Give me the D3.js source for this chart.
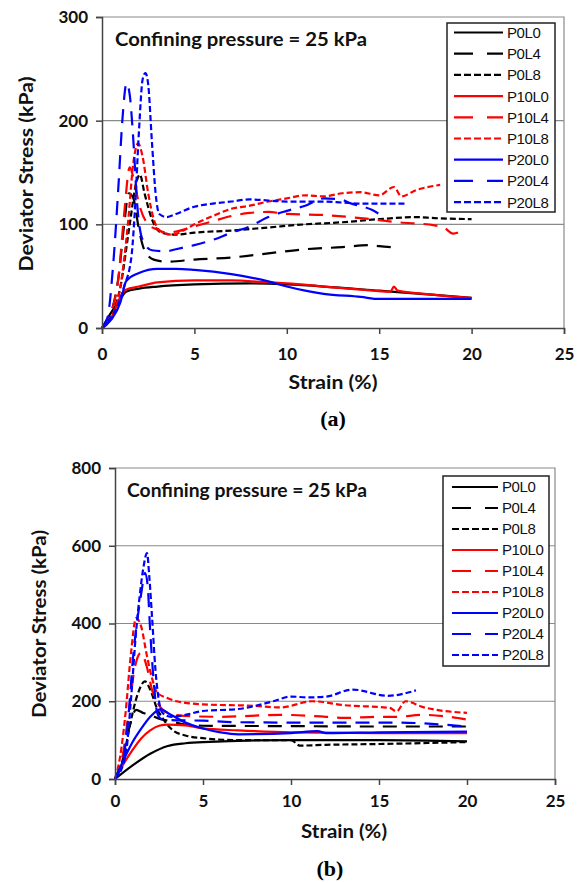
<!DOCTYPE html>
<html>
<head>
<meta charset="utf-8">
<script src="https://cdn.jsdelivr.net/npm/d3@7"></script>
<style>
  body { margin: 0; background: #fff; }
  svg { display: block; }
  .tick text { font-family: Lato, "Open Sans", sans-serif; font-weight: 700; font-size: 17px; fill: #111; }
</style>
</head>
<body>
<div id="fig"></div>
<script>
// legend names and line styles (shared by both panels)
const seriesNames = ['P0L0', 'P0L4', 'P0L8', 'P10L0', 'P10L4', 'P10L8', 'P20L0', 'P20L4', 'P20L8'];
const seriesColors = ['#000', '#000', '#000', '#ff0000', '#ff0000', '#ff0000', '#0000ff', '#0000ff', '#0000ff'];
const seriesDash = ['none', '14,9', '6,3', 'none', '14,9', '6,3', 'none', '14,9', '6,3'];
const legendDash = ['none', '19,14', '7,3', 'none', '19,14', '7,3', 'none', '19,14', '7,3'];

const xTicks = [0, 5, 10, 15, 20, 25];
const yTicksA = [0, 100, 200, 300];
const yTicksB = [0, 200, 400, 600, 800];

// panel (a): [strain %, deviator stress kPa]
const aP0L0 = [[0,0],[0.5,15],[1,28],[1.3,35],[2,38],[3,40],[5,42],[8,43],[10,42],[12,40],[15,36],[18,32],[20,29]];
const aP0L4 = [[0,0],[0.5,15],[0.9,50],[1.2,100],[1.45,130],[1.7,125],[2,95],[2.3,75],[2.8,66],[3.5,64],[5,66],[7,68],[9,72],[11,76],[13,78],[14.5,80],[15,79],[15.7,78]];
const aP0L8 = [[0,0],[0.5,12],[1,40],[1.5,100],[1.85,140],[2.05,148],[2.3,130],[2.7,105],[3.2,92],[4,90],[5,92],[7,94],[9,97],[11,100],[13,102],[15,105],[17,107],[18,106],[20,105]];
const aP10L0 = [[0,0],[0.5,10],[1,30],[1.3,37],[2,40],[3,44],[5,46],[7,46],[9,44],[10,43],[12,40],[14,37],[15.6,35],[15.8,40],[16,36],[18,32],[20,29]];
const aP10L4 = [[0,0],[0.5,15],[0.9,50],[1.2,110],[1.5,155],[1.7,145],[2,120],[2.5,100],[3,95],[3.5,92],[4,93],[5,98],[6,103],[7,108],[8,111],[9,112],[10,110],[12,109],[14,106],[16,102],[18,99],[18.5,97],[19,91],[19.4,93]];
const aP10L8 = [[0,0],[0.5,10],[1,40],[1.4,100],[1.7,160],[1.95,178],[2.2,165],[2.5,130],[2.8,105],[3.2,93],[3.8,90],[4.5,95],[5,100],[6,108],[7,115],[8,118],[9,122],[10,125],[11,128],[12,127],[13,130],[14,131],[15,128],[15.8,136],[16.2,127],[17,133],[18.3,138]];
const aP20L0 = [[0,0],[0.5,8],[1,25],[1.3,45],[2,53],[3,57],[4,57],[5,56],[7,52],[9,45],[10,40],[11,36],[12,33],[14,30],[15,28],[17,28],[20,28]];
const aP20L4 = [[0,0],[0.3,10],[0.6,60],[0.9,140],[1.1,200],[1.33,236],[1.5,225],[1.7,180],[1.9,120],[2.2,85],[2.7,75],[3.5,74],[4,76],[5,80],[6,85],[7,92],[8,98],[9,107],[10,113],[11,118],[12,125],[12.9,124],[13.5,120],[14.6,114],[15,110]];
const aP20L8 = [[0,0],[0.4,8],[0.8,20],[1.2,40],[1.6,70],[1.8,120],[2,190],[2.2,240],[2.35,246],[2.5,235],[2.7,180],[2.9,130],[3.1,110],[3.5,107],[4,110],[5,117],[6,120],[7,122],[8,124],[10,122],[12,122],[13,121],[14,120],[16.4,120]];

// panel (b)
const bP0L0 = [[0,0],[1,35],[2,65],[3,85],[4,92],[5,95],[10,100],[15,100],[20,97]];
const bP0L4 = [[0,0],[0.4,50],[0.8,130],[1.2,178],[1.6,170],[2,165],[2.5,155],[3,150],[4,140],[5,137],[10,136],[15,135],[20,135]];
const bP0L8 = [[0,0],[0.5,60],[0.9,150],[1.3,220],[1.7,251],[2,230],[2.4,180],[2.8,150],[3.3,125],[4,112],[5,105],[7,100],[10,100],[10.5,86],[12,88],[15,90],[20,95]];
const bP10L0 = [[0,0],[0.5,40],[1,75],[1.5,105],[2,125],[2.5,137],[3,140],[4,138],[5,130],[7,125],[10,120],[15,118],[20,118]];
const bP10L4 = [[0,0],[0.4,50],[0.8,180],[1.1,280],[1.48,325],[1.8,290],[2.1,230],[2.5,190],[3,170],[4,162],[6,160],[9.4,165],[12,160],[13,157],[15,160],[16,160],[17.5,165],[20,153]];
const bP10L8 = [[0,0],[0.3,60],[0.6,170],[0.9,320],[1.2,414],[1.5,390],[1.8,320],[2.1,260],[2.4,222],[3,208],[3.5,200],[5,192],[8,188],[9.4,184],[11.2,200],[13,190],[15.6,183],[16,174],[16.5,200],[17.5,185],[20,170]];
const bP20L0 = [[0,0],[0.5,50],[1,95],[1.5,130],[2,160],[2.6,180],[3,170],[4,145],[5,130],[6,120],[7,115],[10,118],[11.5,123],[12,118],[15,120],[20,122]];
const bP20L4 = [[0,0],[0.5,60],[0.8,180],[1,300],[1.3,420],[1.5,480],[1.7,530],[1.85,500],[2,380],[2.2,250],[2.4,170],[2.6,155],[3,152],[5,150],[7,146],[11.2,145],[16,145],[20,135]];
const bP20L8 = [[0,0],[0.6,60],[0.9,200],[1.2,380],[1.4,470],[1.6,540],[1.82,581],[1.95,520],[2.1,420],[2.3,280],[2.5,200],[2.7,170],[3.2,160],[4,165],[5,175],[7,180],[9,200],[10,212],[11,210],[12,212],[13.5,230],[15.5,214],[17.1,228]];

const panelA = [aP0L0, aP0L4, aP0L8, aP10L0, aP10L4, aP10L8, aP20L0, aP20L4, aP20L8];
const panelB = [bP0L0, bP0L4, bP0L8, bP10L0, bP10L4, bP10L8, bP20L0, bP20L4, bP20L8];

const svg = d3.select('#fig').append('svg').attr('width', 583).attr('height', 883);

function drawPanel(cfg) {
  const x = d3.scaleLinear().domain([0, 25]).range([cfg.left, cfg.right]);
  const y = d3.scaleLinear().domain([0, cfg.yMax]).range([cfg.bottom, cfg.top]);
  const g = svg.append('g');

  // gridlines
  g.append('g').selectAll('line')
    .data(cfg.yTicks.filter(d => d > 0 && d < cfg.yMax))
    .join('line')
    .attr('x1', cfg.left).attr('x2', cfg.right)
    .attr('y1', d => y(d)).attr('y2', d => y(d))
    .attr('stroke', '#8a8a8a').attr('stroke-width', 1.2);

  // frame (top/right)
  g.append('path')
    .attr('d', `M${cfg.left},${cfg.top}H${cfg.right}V${cfg.bottom}`)
    .attr('fill', 'none').attr('stroke', '#8a8a8a').attr('stroke-width', 1.2);

  // curves
  const line = d3.line().x(d => x(d[0])).y(d => y(d[1])).curve(d3.curveMonotoneX);
  g.append('g').selectAll('path')
    .data(cfg.series)
    .join('path')
    .attr('d', line)
    .attr('fill', 'none')
    .attr('stroke', (d, i) => seriesColors[i])
    .attr('stroke-width', 2.2)
    .attr('stroke-dasharray', (d, i) => seriesDash[i]);

  // axes
  const xAxis = g.append('g').attr('transform', `translate(0,${cfg.bottom})`)
    .call(d3.axisBottom(x).tickValues(xTicks).tickSize(6).tickPadding(cfg.xPad));
  const yAxis = g.append('g').attr('transform', `translate(${cfg.left},0)`)
    .call(d3.axisLeft(y).tickValues(cfg.yTicks).tickSize(6).tickPadding(8));
  [xAxis, yAxis].forEach(a => {
    a.select('.domain').attr('stroke', '#444').attr('stroke-width', 1.5);
    a.selectAll('.tick line').attr('stroke', '#444').attr('stroke-width', 1.5);
  });

  const labelFont = sel => sel.style('font-family', 'Lato, sans-serif').style('font-weight', 700).style('fill', '#111');

  // title inside plot
  g.append('text')
    .attr('x', cfg.titleX).attr('y', cfg.titleY)
    .attr('textLength', cfg.titleW).attr('lengthAdjust', 'spacingAndGlyphs')
    .call(labelFont).style('font-size', '18px')
    .text('Confining pressure = 25 kPa');

  // axis labels
  g.append('text')
    .attr('transform', `translate(${cfg.yLabelX},${cfg.yLabelY}) rotate(-90)`)
    .attr('text-anchor', 'middle')
    .attr('textLength', cfg.yLabelW).attr('lengthAdjust', 'spacingAndGlyphs')
    .call(labelFont).style('font-size', '19px')
    .text('Deviator Stress (kPa)');
  g.append('text')
    .attr('x', cfg.xLabelX).attr('y', cfg.xLabelY)
    .attr('text-anchor', 'middle')
    .attr('textLength', cfg.xLabelW).attr('lengthAdjust', 'spacingAndGlyphs')
    .call(labelFont).style('font-size', '19px')
    .text('Strain (%)');
  g.append('text')
    .attr('x', cfg.tagX).attr('y', cfg.tagY)
    .attr('text-anchor', 'middle')
    .style('font-family', '"Liberation Serif", serif').style('font-weight', 700).style('font-size', '22px')
    .text(cfg.tag);

  // legend
  const lg = g.append('g');
  lg.append('rect')
    .attr('x', cfg.leg.x).attr('y', cfg.leg.y).attr('width', cfg.leg.w).attr('height', cfg.leg.h)
    .attr('fill', '#fff').attr('stroke', '#222').attr('stroke-width', 1.5);
  const item = lg.selectAll('g.item').data(seriesNames).join('g')
    .attr('transform', (d, i) => `translate(0,${cfg.leg.first + i * cfg.leg.step})`);
  item.append('line')
    .attr('x1', cfg.leg.x1).attr('x2', cfg.leg.x2)
    .attr('stroke', (d, i) => seriesColors[i])
    .attr('stroke-width', 2.2)
    .attr('stroke-dasharray', (d, i) => legendDash[i]);
  item.append('text')
    .attr('x', cfg.leg.tx).attr('dy', '0.36em')
    .style('font-family', '"Liberation Sans Narrow", "Liberation Sans", sans-serif')
    .style('font-size', '15px').style('letter-spacing', '-0.4px').style('fill', '#111')
    .text(d => d);
}

drawPanel({
  left: 102, right: 564, top: 17, bottom: 328, yMax: 300, yTicks: yTicksA, xPad: 14,
  series: panelA, titleX: 115, titleY: 46, titleW: 252,
  yLabelX: 33, yLabelY: 174, yLabelW: 195,
  xLabelX: 333, xLabelY: 389, xLabelW: 89,
  tagX: 333, tagY: 426, tag: '(a)',
  leg: { x: 447, y: 23, w: 108, h: 189, first: 32.5, step: 21.2, x1: 454, x2: 503, tx: 507 }
});

drawPanel({
  left: 115, right: 555, top: 468, bottom: 779, yMax: 800, yTicks: yTicksB, xPad: 10,
  series: panelB, titleX: 127, titleY: 497, titleW: 240,
  yLabelX: 46, yLabelY: 624, yLabelW: 188,
  xLabelX: 344, xLabelY: 838, xLabelW: 86,
  tagX: 330, tagY: 876, tag: '(b)',
  leg: { x: 443, y: 476, w: 106, h: 190, first: 487, step: 21, x1: 452, x2: 498, tx: 502 }
});
</script>
</body>
</html>
